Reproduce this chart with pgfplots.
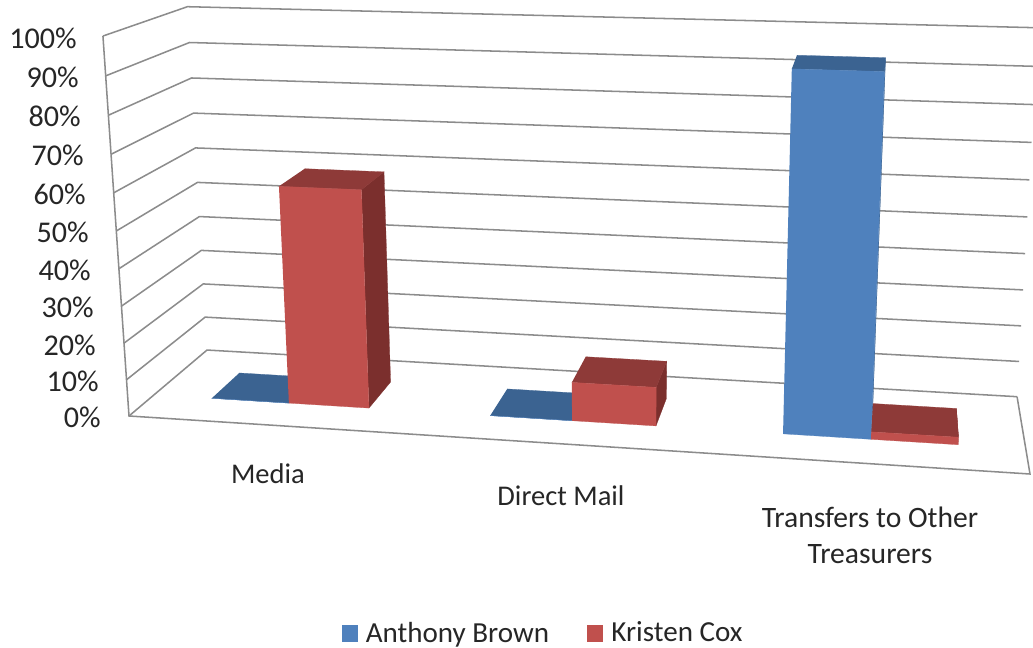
\documentclass[border=0pt]{standalone}
\usepackage{pgfplots}
\pgfplotsset{compat=1.18}
\usepackage{fontspec}
\setmainfont{Carlito}
\definecolor{bluefront}{HTML}{4F81BD}
\definecolor{bluetop}{HTML}{3B6391}
\definecolor{blueside}{HTML}{37608F}
\definecolor{redfront}{HTML}{C0504D}
\definecolor{redtop}{HTML}{8E3A38}
\definecolor{redside}{HTML}{7B2F2D}
\definecolor{gridgray}{HTML}{8C8C8C}
\definecolor{labeltext}{HTML}{262626}

% Columns are u (across, 0..1), d (into the page, 0..1), v (share, 0..1);
% the projection turns them into canvas positions.
\newcommand{\projx}{px(\thisrow{u},\thisrow{d},\thisrow{v})}
\newcommand{\projy}{py(\thisrow{u},\thisrow{d},\thisrow{v})}
\pgfkeys{/pgfplots/table/projected/.style={/pgfplots/table/x expr=\projx,/pgfplots/table/y expr=\projy,/pgfplots/table/row sep=\\}}

% One 3-D column, 0.30 to 0.68 deep: left u, right u, value in percent, colour prefix
\newcommand{\column}[4]{%
  \addplot[fill=#4side,draw=#4side,line width=.2pt,forget plot] table[projected]{u d v\\
    #2 0.30 0\\ #2 0.68 0\\ #2 0.68 #3e-2\\ #2 0.30 #3e-2\\};
  \addplot[fill=#4top,draw=#4top,line width=.2pt,forget plot] table[projected]{u d v\\
    #1 0.30 #3e-2\\ #2 0.30 #3e-2\\ #2 0.68 #3e-2\\ #1 0.68 #3e-2\\};
  \addplot[fill=#4front,draw=#4front,line width=.2pt,forget plot] table[projected]{u d v\\
    #1 0.30 0\\ #2 0.30 0\\ #2 0.30 #3e-2\\ #1 0.30 #3e-2\\};
}
% One gridline running along the side wall and the back wall
\newcommand{\gridline}[1]{%
  \addplot[gridgray,line width=1.15pt,forget plot] table[projected]{u d v\\
    0 0 #1\\ 0 1 #1\\ 1 1 #1\\};
}

\begin{document}
\begin{tikzpicture}
\begin{axis}[
  name=main,
  declare function={
    den(\uu,\dd,\vv)=1-0.08*\uu+0.111*\dd-0.051*\vv;
    px(\uu,\dd,\vv)=(129+818.6*\uu+101*\dd-31.3*\vv)/den(\uu,\dd,\vv);
    py(\uu,\dd,\vv)=(416+20.1*\uu-27.1*\dd-381.8*\vv)/den(\uu,\dd,\vv);
  },
  x=0.75pt,y=0.75pt,
  xmin=0,xmax=1033,ymin=0,ymax=648,
  y dir=reverse,
  axis lines=none,
  clip=true,
  font=\fontsize{21.4}{25}\selectfont,
  legend columns=2,
  legend style={
    draw=none,fill=none,at={(axis cs:546,633)},anchor=center,
    font=\fontsize{21.8}{25}\selectfont,text=labeltext,
    inner sep=0pt,
    /tikz/every even column/.style={column sep=22.5pt},
    nodes={inner xsep=6pt,inner ysep=0pt},
  },
  legend image code/.code={\fill[#1,draw=none] (0pt,-6.4pt) rectangle (12.2pt,6.2pt);},
]
% Floor outline and the front edge of the side wall
\addplot[gridgray,line width=1.15pt,forget plot] table[projected]{u d v\\
  0 0 1\\ 0 0 0\\ 1 0 0\\ 1 1 0\\};
\gridline{0}\gridline{0.1}\gridline{0.2}\gridline{0.3}\gridline{0.4}\gridline{0.5}
\gridline{0.6}\gridline{0.7}\gridline{0.8}\gridline{0.9}\gridline{1}

% Media
\column{0.0712}{0.1654}{0}{blue}
\column{0.1654}{0.2617}{59.4}{red}
% Direct Mail
\column{0.4048}{0.4996}{0}{blue}
\column{0.4996}{0.5953}{10.5}{red}
% Transfers to Other Treasurers
\column{0.7374}{0.8339}{94}{blue}
\column{0.8339}{0.9279}{2}{red}

\addlegendimage{fill=bluefront}\addlegendentry{Anthony Brown}
\addlegendimage{fill=redfront}\addlegendentry{Kristen Cox}

% Value labels beside the side wall
\begin{scope}[every node/.style={anchor=east,text=labeltext,inner sep=0pt,font=\fontsize{22.6}{25}\selectfont}]
\node at (axis cs:77,38) {100\%};
\node at (axis cs:79,77) {90\%};
\node at (axis cs:81,116) {80\%};
\node at (axis cs:84,155) {70\%};
\node at (axis cs:86,194) {60\%};
\node at (axis cs:89,232) {50\%};
\node at (axis cs:91,270) {40\%};
\node at (axis cs:94,307) {30\%};
\node at (axis cs:96,345) {20\%};
\node at (axis cs:99,381) {10\%};
\node at (axis cs:101,417) {0\%};
\end{scope}

% Category names
\begin{scope}[every node/.style={text=labeltext,inner sep=0pt,align=center}]
\node at (axis cs:268,474) {Media};
\node at (axis cs:561,496) {Direct Mail};
\node[text height=14pt,text depth=4pt,font=\fontsize{22.2}{25}\selectfont] at (axis cs:870,521) {Transfers to Other};
\node[text height=14pt,text depth=4pt,font=\fontsize{22.2}{25}\selectfont] at (axis cs:870,557) {Treasurers};
\end{scope}
\end{axis}
\useasboundingbox (main.south west) rectangle (main.north east);
\end{tikzpicture}
\end{document}
